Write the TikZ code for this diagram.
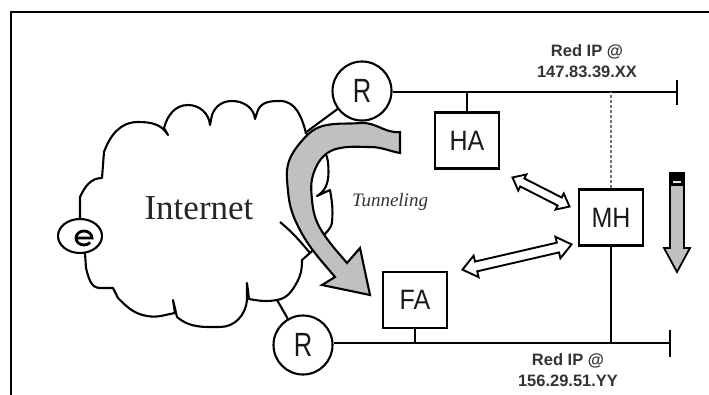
\documentclass[tikz,border=0pt]{standalone}
\usepackage{fontspec}
\setmainfont{Liberation Serif}
\newfontfamily\lsans{Liberation Sans}
\usetikzlibrary{calc}
\begin{document}
\begin{tikzpicture}[x=1pt,y=-1pt,
  ln/.style={line width=2.1pt},
  boxnode/.style={draw,line width=2.1pt,minimum width=64pt,minimum height=56pt,inner sep=0pt,fill=white},
  router/.style={draw,circle,line width=2.1pt,minimum size=59pt,inner sep=0pt,fill=white},
  boxtext/.style={font=\lsans\fontsize{25}{25}\selectfont,text=black!90},
  iplabel/.style={font=\lsans\bfseries\fontsize{16.5}{21}\selectfont,align=center,inner sep=0pt,text=black!80},
  hollowarrow/.style={draw,line width=1.9pt,fill=white,line join=miter},
  grayfill/.style={fill={rgb,255:red,192;green,192;blue,192}}
]
\useasboundingbox (0,0) rectangle (709,394);
\fill[white] (0,0) rectangle (709,394);
% frame
\draw[line width=2.6pt] (11,400) -- (11,12) -- (715,12);

% cloud
\draw[ln,line join=round]
  (80,218) -- (80,197) to[out=65,in=180] (102,178) -- (104,152)
  to[out=70,in=180] (138,122) to[out=0,in=120] (168,135) -- (164,128)
  to[out=75,in=180] (188,105) to[out=0,in=95] (210,125) -- (212,115)
  to[out=70,in=180] (232,101) to[out=0,in=95] (255,119) -- (258,110)
  to[out=65,in=180] (280,101) to[out=0,in=105] (306,133)
  to[out=-55,in=95] (328,162) to[out=-85,in=30] (317,196) -- (330,190)
  to[out=-80,in=85] (332,222) to[out=-95,in=60] (322,238)
  to[out=-120,in=40] (310,253) -- (302,260) to[out=-90,in=60] (296,284)
  to[out=-120,in=10] (277,300) to[out=190,in=-10] (249,299) -- (247,283)
  -- (247,300) to[out=-95,in=0] (220,327) to[out=180,in=-40] (177,317)
  -- (173,300) -- (175,313) to[out=-170,in=-10] (147,316)
  to[out=170,in=-45] (118,298) -- (113,288) -- (100,288)
  to[out=180,in=-75] (86,268) -- (85,253);
\draw[ln] (280,222) to[out=-40,in=130] (310,253);
% e icon
\draw[ln] (80,236) ellipse[x radius=22,y radius=17];
\draw[line width=2.8pt] (76,238) -- (92,238) arc[start angle=0,end angle=-320,x radius=8,y radius=7];

\node[font=\fontsize{35}{35}\selectfont,text=black!85] (internet) at (199,208) {Internet};

% routers
\node[router] (R1) at (362,91) {};
\node[boxtext] at (R1) {\scalebox{0.85}[1.12]{\fontsize{30}{30}\selectfont R}};
\node[router] (R2) at (303,345) {};
\node[boxtext] at (R2) {\scalebox{0.85}[1.12]{\fontsize{30}{30}\selectfont R}};
\coordinate (c1) at (305,133);
\coordinate (c2) at (277,300);
\draw[ln] (c1) -- (R1);
\draw[ln] (c2) -- (R2);

% networks
\coordinate (topend) at (677,92);
\coordinate (botend) at (670,343);
\draw[ln] (R1.east |- topend) -- (topend);
\draw[ln] ($(topend)+(0,-12)$) -- ($(topend)+(0,13)$);
\draw[ln] (R2.east |- botend) -- (botend);
\draw[ln] ($(botend)+(0,-13)$) -- ($(botend)+(0,14)$);

% boxes
\node[boxnode] (HA) at (467,140.5) {};
\node[boxtext] at (HA) {\scalebox{1}[1.12]{HA}};
\node[boxnode] (MH) at (611,217.5) {};
\node[boxtext] at (MH) {\scalebox{1}[1.12]{MH}};
\node[boxnode] (FA) at (415,300) {};
\node[boxtext] at (FA) {\scalebox{1}[1.12]{FA}};

\draw[ln] (HA.north) -- (HA.north |- topend);
\draw[ln] (FA.south) -- (FA.south |- botend);
\draw[ln] (MH.south) -- (MH.south |- botend);
\draw[line width=2pt,black!55,dash pattern=on 3pt off 2pt] (MH.north) -- (MH.north |- topend);

% labels
\node[iplabel] (lab1) at (587,61) {Red IP @\\147.83.39.XX};
\node[iplabel] (lab2) at (568,370) {Red IP @\\156.29.51.YY};

% tunneling arrow
\draw[ln,grayfill,line join=miter]
  (400,132) to[out=185,in=5] (360,123) to[out=185,in=10] (327,125)
  to[out=190,in=50] (300,143) to[out=-130,in=95] (287,180)
  to[out=-85,in=115] (296,222) to[out=-65,in=130] (335,277)
  -- (322,285) -- (370,295) -- (360,248) -- (347,263)
  to[out=130,in=-55] (325,236) to[out=125,in=-85] (312,200)
  to[out=95,in=-110] (314,172) to[out=70,in=190] (340,148)
  to[out=10,in=180] (370,147) to[out=0,in=170] (400,153) -- cycle;
\node[font=\itshape\fontsize{19}{19}\selectfont,text=black!80] (tun) at (390,202) {Tunneling};

% hollow double arrows
\begin{scope}[shift={(541,192)},rotate=-27]
\draw[hollowarrow] (-32,0) -- (-21,-9) -- (-21,-4.5) -- (21,-4.5) -- (21,-9) -- (32,0) -- (21,9) -- (21,4.5) -- (-21,4.5) -- (-21,9) -- cycle;
\end{scope}
\begin{scope}[shift={(517,257)},rotate=13]
\draw[hollowarrow] (-56,0) -- (-42,-11) -- (-42,-5) -- (42,-5) -- (42,-11) -- (56,0) -- (42,11) -- (42,5) -- (-42,5) -- (-42,11) -- cycle;
\end{scope}

% gray down arrow
\draw[line width=1.8pt,grayfill,line join=miter] (670,173) -- (684,173) -- (684,248) -- (690,248) -- (677,272) -- (664,248) -- (670,248) -- cycle;
\fill[black] (670,173) rectangle (684,186);
\draw[white!80!gray,line width=1.5pt] (673,182) -- (681,182);
\end{tikzpicture}
\end{document}
